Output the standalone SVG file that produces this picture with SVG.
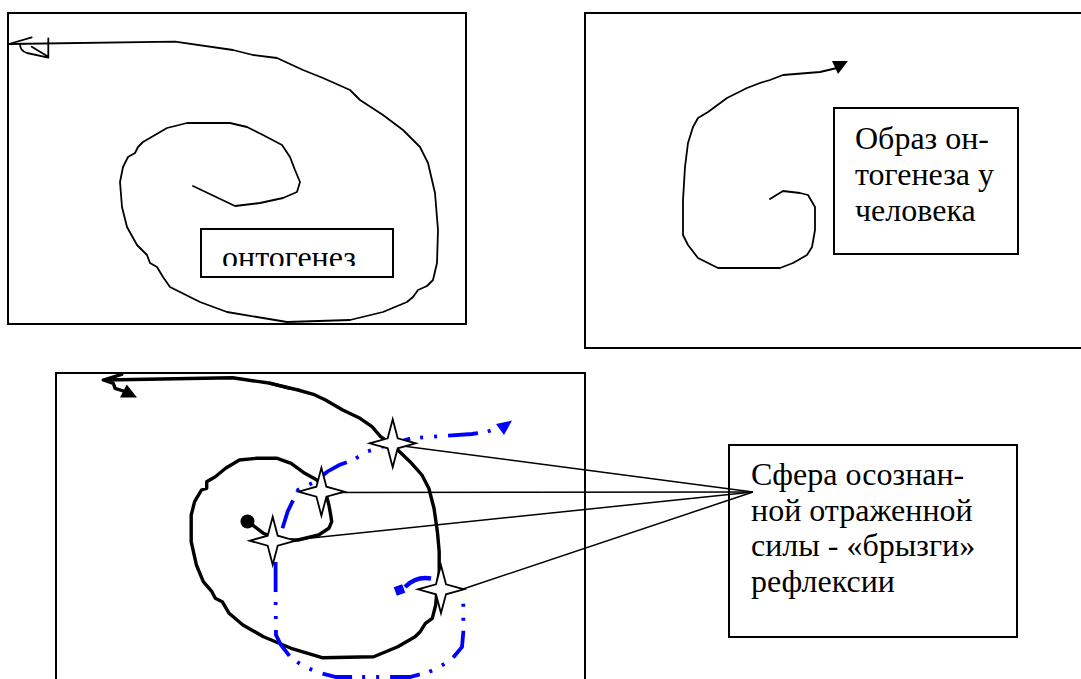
<svg xmlns="http://www.w3.org/2000/svg" xmlns:xlink="http://www.w3.org/1999/xlink" width="1081" height="679" viewBox="0 0 1081 679">
<style>
.frame{fill:#fff;stroke:#000;stroke-width:2}
.hand{fill:none;stroke:#000;stroke-width:1.8;stroke-linejoin:round;stroke-linecap:round}
.thick{fill:none;stroke:#000;stroke-width:3.4;stroke-linejoin:round;stroke-linecap:round}
.blue{fill:none;stroke:#0000ff;stroke-width:3.8;stroke-dasharray:30 10 3 11 3 11}
.lbl{font-size:32px;fill:#000}
.star{fill:#fff;stroke:#000;stroke-width:1.8;stroke-linejoin:miter}
.conn{fill:none;stroke:#000;stroke-width:1.5}
</style>
<defs>
<path id="star" d="M0,-24 L5,-5 L23,0 L5,5 L0,24 L-5,5 L-23,0 L-5,-5 Z"/>
<clipPath id="clipOnto"><rect x="201" y="229" width="192" height="37"/></clipPath>
</defs>

<g id="panel-ontogenez">
<rect class="frame" x="8" y="13" width="458" height="311"/>
<path class="hand" d="M9,44 L175,41.7 L233,50 L253,55 L277,58 L303,70 L323,78 L350,90 L360,100 L383,115 L403,130 L420,147 L428,163 L435,193 L438,230 L437,263 L433,280 L427,286 L418,290 L413,297 L407,302 L383,312 L350,320 L287,322 L227,312 L200,302 L170,287 L163,277 L157,267 L150,263 L147,255 L137,245 L127,227 L122,207 L120,182 L123,167 L128,157 L135,153 L138,147 L143,142 L167,128 L187,123 L230,123 L247,127 L263,135 L282,145 L290,157 L295,170 L300,182 L297,192 L283,198 L260,203 L235,206 L193,186"/>
<path class="hand" d="M9,44 L31.7,37.3 M20,44 Q20,51 27,53 L48.3,57.7 L48.3,38.3 M31.7,46.7 L48.3,56.7"/>
</g>
<g id="label-ontogenez">
<rect class="frame" x="201" y="229" width="192" height="48"/>
<text class="lbl" x="222" y="267.5" clip-path="url(#clipOnto)" font-family="'Liberation Serif', 'DejaVu Serif', serif">онтогенез</text>
</g>

<g id="panel-human">
<rect class="frame" x="585" y="13" width="500" height="335"/>
<path class="hand" d="M837,68 L820,72 L783,75 L770,80 L760,83 L747,88 L737,93 L727,98 L708,112 L698,118 L693,127 L688,143 L685,167 L683,200 L683,235 L688,245 L698,258 L718,268 L780,268 L793,263 L807,255 L812,247 L815,230 L815,207 L808,195 L800,193 L783,191 L770,199"/>
<polygon points="832,61 848,61 838,74" fill="#000"/>
</g>
<g id="label-human" font-family="'Liberation Serif', 'DejaVu Serif', serif">
<rect class="frame" x="834" y="108" width="184" height="146"/>
<text class="lbl" x="855" y="148.5">Образ он-</text>
<text class="lbl" x="855" y="184.5">тогенеза у</text>
<text class="lbl" x="855" y="220.5">человека</text>
</g>

<g id="panel-reflexion">
<rect class="frame" x="56" y="373" width="529" height="320"/>
<path class="thick" d="M290,388.3 L270.4,383.3 L232.5,377.7 L105,380 M121.7,374.3 L103.3,380 L113.3,383.3 L115,388.3 L123.3,391"/>
<polygon points="120,397.5 137,397.5 126.7,384.5" fill="#000"/>
<path class="thick" d="M270.4,383.3 L298,390 L313.4,394.3 L325.5,400 L342.7,410 L360,418.3 L372,426.7 L380.6,436.7 L392.6,445 L397.8,450 L411.6,463.3 L421.9,475 L428.8,488.3 L434,508.3 L437.4,531.7 L439.2,551.7 L439.2,571.7 L437.4,585 L435.7,605 L432.3,618.3 L425.4,623.3 L420.2,631.7 L415,636.7 L397.8,646.7 L373.7,656.7 L322.1,657.7 L291.1,648.3 L263.5,636.7 L242.9,625 L229.1,613.3 L222.2,601.7 L215.3,598.3 L211.9,591.7 L203.3,581.7 L196.4,565 L191.2,541.7 L191.2,515 L194.6,501.7 L201.5,490 L206.7,488.3 L206.7,481.7 L215.3,476.7 L225.6,468.3 L239.4,460 L256.6,458.3 L277.3,458.3 L291.1,463.3 L304.8,473.3 L316.9,480 L325.5,491.7 L328.9,505 L330.7,515 L331.7,521.7 L328.9,528.3 L318.6,535 L298,540 L279,540 L263.5,533.3 L248,521.7"/>
<circle cx="247.5" cy="521.5" r="7" fill="#000"/>
<path class="blue" d="M282.5,528.3 L287.6,511.7 L298,490 L315.2,481.7 L327.2,471.7 L339.3,465 L353.1,460 L366.8,451.7 L382.3,446.7 L411.6,438.3 L442.6,436 L471.9,434 L487.4,431.7 L500,427"/>
<polygon points="512,420.5 496,424 504,435" fill="#0000ff"/>
<path class="blue" d="M275.6,562 L275.6,600 L276,635 L281,645 L291,658 L305,667 L320,673 L336,677 L363,677 L410,677 L429,672 L439,667 L451,660 L462,647 L463.3,632 L463.3,602"/>
<path d="M431,578.5 Q416,576 405,587" fill="none" stroke="#0000ff" stroke-width="4.5"/>
<rect x="395" y="585.5" width="9" height="9" fill="#0000ff" transform="rotate(-20 399.5 590)"/>
</g>

<g id="label-sphere" font-family="'Liberation Serif', 'DejaVu Serif', serif">
<rect class="frame" x="729" y="445" width="288" height="192"/>
<text class="lbl" x="751" y="485">Сфера осознан-</text>
<text class="lbl" x="751" y="520.5">ной отраженной</text>
<text class="lbl" x="751" y="556">силы - «брызги»</text>
<text class="lbl" x="751" y="591.5">рефлексии</text>
</g>

<g id="connectors">
<path class="conn" d="M395,445 L753,492"/>
<path class="conn" d="M321,492.5 L753,492"/>
<path class="conn" d="M292,540 L753,492"/>
<path class="conn" d="M463,589 L753,492"/>
</g>

<g id="stars">
<use xlink:href="#star" href="#star" class="star" x="392.7" y="443.3"/>
<use xlink:href="#star" href="#star" class="star" x="321.4" y="491.7"/>
<use xlink:href="#star" href="#star" class="star" x="272.7" y="540.7"/>
<use xlink:href="#star" href="#star" class="star" x="441" y="589.3"/>
</g>
</svg>
